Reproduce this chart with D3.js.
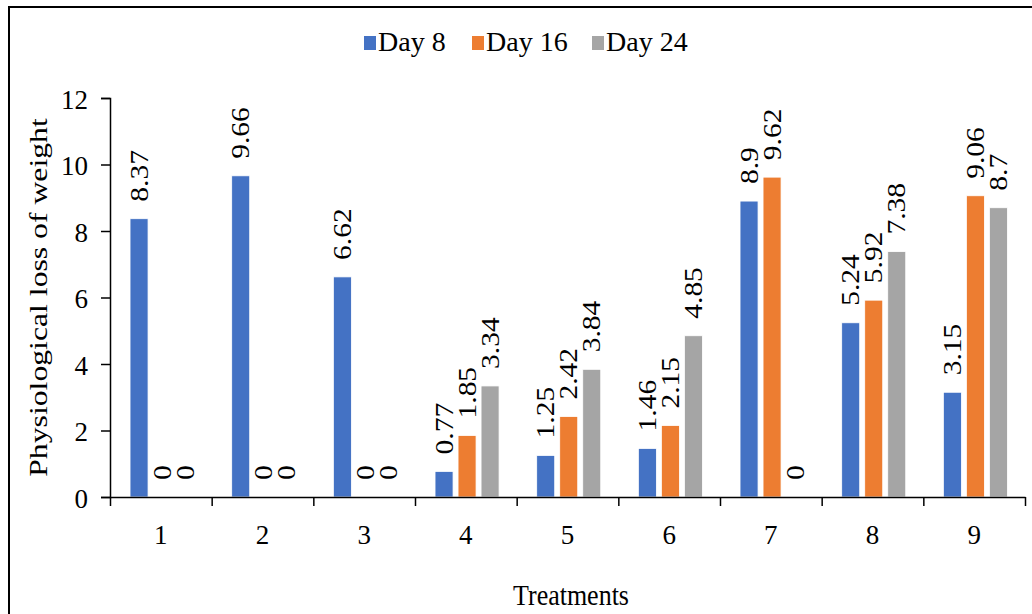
<!DOCTYPE html>
<html>
<head>
<meta charset="utf-8">
<script src="https://cdn.jsdelivr.net/npm/d3@7"></script>
<style>
  html, body { margin: 0; padding: 0; background: #fff; }
  svg { display: block; }
</style>
</head>
<body>
<svg id="chart" width="1032" height="614" font-family="Liberation Serif, serif"></svg>
<script>
const categories = ["1", "2", "3", "4", "5", "6", "7", "8", "9"];
const seriesNames = ["Day 8", "Day 16", "Day 24"];
const day8  = [8.37, 9.66, 6.62, 0.77, 1.25, 1.46, 8.9, 5.24, 3.15];
const day16 = [0, 0, 0, 1.85, 2.42, 2.15, 9.62, 5.92, 9.06];
const day24 = [0, 0, 0, 3.34, 3.84, 4.85, 0, 7.38, 8.7];
const yTicks = [0, 2, 4, 6, 8, 10, 12];
const colors = ["#4472C4", "#ED7D31", "#A5A5A5"];
const yTitle = "Physiological loss of weight";
const xTitle = "Treatments";
const FONT = "'Liberation Serif', 'Times New Roman', serif";

const seriesValues = [day8, day16, day24];
const rows = categories.map((c, i) => ({
  cat: c,
  vals: seriesNames.map((s, k) => ({ series: s, k: k, value: seriesValues[k][i] }))
}));

const svg = d3.select("#chart");

// outer border
svg.append("rect")
  .attr("x", 9).attr("y", 7)
  .attr("width", 1100).attr("height", 700)
  .attr("fill", "none").attr("stroke", "#000").attr("stroke-width", 2);

const plotLeft = 110, plotRight = 1025, plotTop = 98, plotBottom = 497;

const x0 = d3.scaleBand().domain(categories).range([plotLeft, plotRight]).padding(0);
const bw = x0.bandwidth();
const x1 = d3.scaleBand().domain(seriesNames)
  .range([bw * 0.197, bw * 0.827]).paddingInner(0.217).paddingOuter(0);
const y = d3.scaleLinear().domain([0, 12]).range([plotBottom, plotTop]);
const xb = d3.scaleLinear().domain([0, categories.length]).range([plotLeft, plotRight]);

// bars
const g = svg.append("g");
const groups = g.selectAll("g.cat").data(rows).join("g")
  .attr("class", "cat")
  .attr("transform", d => `translate(${x0(d.cat)},0)`);

groups.selectAll("rect").data(d => d.vals).join("rect")
  .attr("x", d => x1(d.series))
  .attr("y", d => y(d.value))
  .attr("width", x1.bandwidth())
  .attr("height", d => y(0) - y(d.value))
  .attr("fill", d => colors[d.k])
  .attr("stroke", "#fff").attr("stroke-width", 0.8);

// data labels
groups.selectAll("text.lbl").data(d => d.vals).join("text")
  .attr("class", "lbl")
  .attr("transform", d => `translate(${x1(d.series) + x1.bandwidth() / 2},${y(d.value) - 17}) rotate(-90) scale(1.18,1)`)
  .attr("dy", "0.35em")
  .attr("text-anchor", "start")
  .style("font-family", FONT)
  .style("font-size", "25px")
  .attr("fill", "#000")
  .text(d => String(d.value));

// y axis
const yAxis = svg.append("g")
  .attr("transform", `translate(${plotLeft},0)`)
  .call(d3.axisLeft(y).tickValues(yTicks).tickSize(9).tickPadding(13).tickFormat(d3.format("d")));
yAxis.select(".domain").attr("stroke", "#000").attr("stroke-width", 1.5);
yAxis.selectAll(".tick line").attr("stroke", "#000").attr("stroke-width", 1.5);
yAxis.selectAll(".tick text")
  .style("font-size", "27px")
  .style("font-family", FONT)
  .attr("dy", "0.38em");

// x axis: boundary ticks
const xAxisTicks = svg.append("g")
  .attr("transform", `translate(0,${plotBottom})`)
  .call(d3.axisBottom(xb).tickValues(d3.range(0, categories.length + 1)).tickSize(9).tickSizeOuter(0).tickFormat(""));
xAxisTicks.select(".domain").attr("stroke", "#000").attr("stroke-width", 1.5);
xAxisTicks.selectAll(".tick line").attr("stroke", "#000").attr("stroke-width", 1.5);

// x axis: category labels
const xAxisLabels = svg.append("g")
  .attr("transform", `translate(0,${plotBottom})`)
  .call(d3.axisBottom(x0).tickSize(0).tickPadding(0));
xAxisLabels.select(".domain").remove();
xAxisLabels.selectAll(".tick text")
  .attr("y", 47).attr("dy", 0)
  .style("font-size", "27px")
  .style("font-family", FONT);

// axis titles
svg.append("text")
  .attr("transform", `translate(47,297.5) rotate(-90) scale(1.22,1)`)
  .attr("text-anchor", "middle")
  .style("font-family", FONT)
  .style("font-size", "26px")
  .attr("fill", "#000")
  .text(yTitle);

svg.append("text")
  .attr("transform", `translate(571,605) scale(1,1.15)`)
  .attr("text-anchor", "middle")
  .style("font-family", FONT)
  .style("font-size", "26px")
  .attr("fill", "#000")
  .text(xTitle);

// legend
const legendX = [364, 472, 592];
const legend = svg.append("g");
seriesNames.forEach((s, k) => {
  legend.append("rect")
    .attr("x", legendX[k]).attr("y", 36)
    .attr("width", 12).attr("height", 14)
    .attr("fill", colors[k]);
  legend.append("text")
    .attr("x", legendX[k] + 14).attr("y", 51)
    .style("font-family", FONT)
    .style("font-size", "28px")
    .attr("fill", "#000")
    .text(s);
});
</script>
</body>
</html>
